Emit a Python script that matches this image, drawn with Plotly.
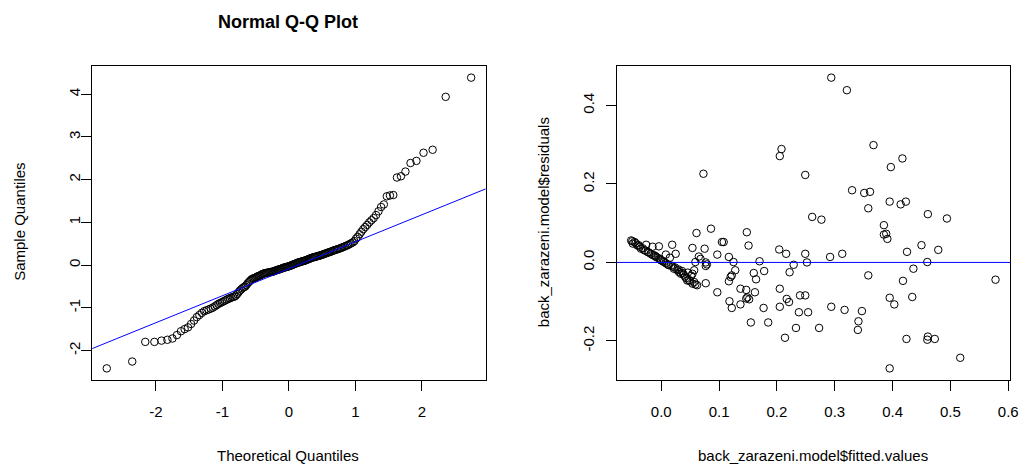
import plotly.graph_objects as go
from statistics import NormalDist

# ---------------- data ----------------
qq_sample = [
    -2.42, -2.26, -1.80, -1.80, -1.77, -1.75, -1.72, -1.64, -1.55, -1.50,
    -1.46, -1.38, -1.30, -1.22, -1.17, -1.12, -1.08, -1.06, -1.04, -1.02,
    -1.00, -0.97, -0.94, -0.91, -0.89, -0.87, -0.85, -0.83, -0.81, -0.79,
    -0.78, -0.76, -0.75, -0.74, -0.72, -0.68, -0.64, -0.60, -0.57, -0.54,
    -0.52, -0.505, -0.47, -0.43, -0.40, -0.37, -0.34, -0.32, -0.31, -0.30,
    -0.29, -0.27, -0.26, -0.25, -0.24, -0.22, -0.21, -0.20, -0.19, -0.185,
    -0.18, -0.175, -0.17, -0.165, -0.16, -0.155, -0.15, -0.14, -0.13, -0.12,
    -0.11, -0.105, -0.10, -0.09, -0.08, -0.07, -0.06, -0.055, -0.05, -0.04,
    -0.035, -0.03, -0.02, -0.01, 0.00, 0.01, 0.02, 0.03, 0.04, 0.05,
    0.06, 0.065, 0.07, 0.08, 0.09, 0.095, 0.10, 0.11, 0.12, 0.13,
    0.14, 0.15, 0.16, 0.17, 0.18, 0.185, 0.19, 0.20, 0.21, 0.215,
    0.22, 0.23, 0.24, 0.25, 0.26, 0.27, 0.28, 0.29, 0.30, 0.31,
    0.32, 0.335, 0.345, 0.355, 0.365, 0.375, 0.385, 0.40, 0.41, 0.425,
    0.44, 0.455, 0.47, 0.49, 0.51, 0.53, 0.56, 0.62, 0.66, 0.72,
    0.78, 0.84, 0.89, 0.94, 1.00, 1.05, 1.10, 1.17, 1.26, 1.36,
    1.42, 1.61, 1.63, 1.64, 2.05, 2.08, 2.19, 2.39, 2.44, 2.63,
    2.70, 3.94, 4.39,
]

fitted = [
    0.294, 0.321, 0.208, 0.205, 0.367, 0.417, 0.397, 0.249, 0.330, 0.351,
    0.361, 0.358, 0.395, 0.414, 0.423, 0.461, 0.494, 0.261, 0.277, 0.385,
    0.385, 0.389, 0.391, 0.450, 0.479, 0.425, 0.204, 0.216, 0.249, 0.292,
    0.313, 0.252, 0.229, 0.222, 0.460, 0.436, 0.358, 0.418, 0.578, 0.205,
    0.217, 0.221, 0.205, 0.240, 0.249, 0.238, 0.254, 0.294, 0.317, 0.347,
    0.341, 0.340, 0.233, 0.273, 0.214, 0.395, 0.403, 0.434, 0.424, 0.460,
    0.461, 0.473, 0.395, 0.517,
    -0.052, -0.046, -0.049, -0.041, -0.026, -0.035, -0.029, -0.023, -0.018, -0.012,
    -0.009, -0.003, 0.000, 0.005, 0.011, 0.017, -0.004, 0.019, 0.025, 0.022,
    0.028, 0.031, 0.034, 0.039, 0.045, 0.054, 0.059, 0.057, 0.077, 0.054,
    0.061, 0.086, 0.073, 0.075, 0.065, 0.068, 0.059, 0.077, 0.079, 0.077,
    0.057, 0.054, 0.097, 0.097, 0.105, 0.108, 0.117, 0.125, 0.128, 0.122,
    0.120, 0.117, 0.118, 0.122, 0.137, 0.137, 0.147, 0.149, 0.152, 0.147,
    0.148, 0.151, 0.160, 0.162, 0.164, 0.170, 0.178, 0.177, 0.155, 0.185,
    -0.050, -0.044, -0.039, -0.037, -0.032, -0.027, -0.021, -0.015, -0.010, -0.006,
    -0.001, 0.003, 0.008, 0.013, 0.020, 0.024, 0.030, 0.036, 0.041, 0.043,
    0.048, 0.050, 0.062, 0.037, 0.046, 0.052, 0.008, 0.015, -0.015,
]

residuals = [
    0.471, 0.439, 0.289, 0.271, 0.299, 0.265, 0.243, 0.223, 0.184, 0.177,
    0.180, 0.138, 0.155, 0.148, 0.155, 0.123, 0.112, 0.116, 0.109, 0.095,
    0.071, 0.073, 0.060, 0.044, 0.032, 0.027, 0.033, 0.022, 0.022, 0.014,
    0.022, 0.000, -0.006, -0.025, 0.001, -0.016, -0.033, -0.047, -0.044, -0.067,
    -0.093, -0.101, -0.113, -0.084, -0.084, -0.127, -0.127, -0.113, -0.121, -0.124,
    -0.150, -0.172, -0.167, -0.167, -0.192, -0.090, -0.107, -0.088, -0.195, -0.197,
    -0.189, -0.195, -0.270, -0.243,
    0.056, 0.052, 0.048, 0.043, 0.045, 0.035, 0.031, 0.026, 0.022, 0.018,
    0.014, 0.009, 0.005, 0.001, -0.005, -0.008, 0.041, 0.045, 0.022, -0.016,
    -0.020, -0.025, -0.029, -0.031, -0.046, -0.054, -0.056, -0.050, -0.053, 0.037,
    0.075, 0.086, 0.226, 0.035, 0.015, 0.009, 0.001, 0.000, -0.005, -0.009,
    -0.020, -0.029, 0.020, -0.076, 0.052, 0.052, 0.014, 0.001, -0.020, -0.033,
    -0.037, -0.048, -0.099, -0.116, -0.067, -0.107, -0.070, -0.089, -0.094, -0.092,
    0.077, 0.043, -0.027, -0.076, -0.043, 0.003, -0.022, -0.116, -0.153, -0.153,
    0.054, 0.049, 0.044, 0.040, 0.036, 0.030, 0.025, 0.019, 0.016, 0.012,
    0.007, 0.003, -0.002, -0.007, -0.011, -0.013, -0.018, -0.022, -0.036, -0.040,
    -0.045, -0.048, -0.058, -0.027, -0.026, -0.034, 0.020, 0.012, 0.040,
]

qq_xticks = [-2, -1, 0, 1, 2]
qq_xlabels = ["-2", "-1", "0", "1", "2"]
qq_yticks = [-2, -1, 0, 1, 2, 3, 4]
qq_ylabels = ["-2", "-1", "0", "1", "2", "3", "4"]
rv_xticks = [0.0, 0.1, 0.2, 0.3, 0.4, 0.5, 0.6]
rv_xlabels = ["0.0", "0.1", "0.2", "0.3", "0.4", "0.5", "0.6"]
rv_yticks = [-0.2, 0.0, 0.2, 0.4]
rv_ylabels = ["-0.2", "0.0", "0.2", "0.4"]

title_text = "Normal Q-Q Plot"
qq_xtitle = "Theoretical Quantiles"
qq_ytitle = "Sample Quantiles"
rv_xtitle = "back_zarazeni.model$fitted.values"
rv_ytitle = "back_zarazeni.model$residuals"

# ---------------- computations (as qqnorm / qqline do) ----------------
nd = NormalDist()
ys = sorted(qq_sample)
n = len(ys)
a = 0.375 if n <= 10 else 0.5
theo = [nd.inv_cdf((i + 1 - a) / (n + 1 - 2 * a)) for i in range(n)]


def q7(v, p):
    v = sorted(v)
    h = (len(v) - 1) * p
    lo = int(h)
    hi = min(lo + 1, len(v) - 1)
    return v[lo] + (h - lo) * (v[hi] - v[lo])


y1, y2 = q7(ys, 0.25), q7(ys, 0.75)
x1, x2 = nd.inv_cdf(0.25), nd.inv_cdf(0.75)
slope = (y2 - y1) / (x2 - x1)
icpt = y1 - slope * x1


def pad(v):
    lo, hi = min(v), max(v)
    d = (hi - lo) * 0.04
    return [lo - d, hi + d]


qx_rng, qy_rng = pad(theo), pad(ys)
rx_rng, ry_rng = pad(fitted), pad(residuals)

FONT = "Liberation Sans, Arial, sans-serif"
marker = dict(symbol="circle-open", size=7.5, color="black", line=dict(width=1, color="black"))

fig = go.Figure()
fig.add_trace(go.Scatter(x=theo, y=ys, mode="markers", marker=marker, xaxis="x", yaxis="y",
                         showlegend=False, hoverinfo="skip"))
fig.add_trace(go.Scatter(x=qx_rng, y=[icpt + slope * v for v in qx_rng], mode="lines",
                         line=dict(color="#0000FF", width=1), xaxis="x", yaxis="y",
                         showlegend=False, hoverinfo="skip"))
fig.add_trace(go.Scatter(x=fitted, y=residuals, mode="markers", marker=marker, xaxis="x2", yaxis="y2",
                         showlegend=False, hoverinfo="skip"))
fig.add_trace(go.Scatter(x=rx_rng, y=[0, 0], mode="lines",
                         line=dict(color="#0000FF", width=1), xaxis="x2", yaxis="y2",
                         showlegend=False, hoverinfo="skip"))

W, H = 1030, 465
ax_common = dict(showgrid=False, zeroline=False, showline=True, mirror=True,
                 linecolor="black", linewidth=1, ticks="outside", ticklen=10,
                 tickcolor="black", tickwidth=1,
                 tickfont=dict(family=FONT, size=15, color="black"))

ydom = [(H - 380) / H, (H - 66) / H]
fig.update_layout(
    width=W, height=H, autosize=False,
    margin=dict(l=0, r=0, t=0, b=0),
    paper_bgcolor="white", plot_bgcolor="white",
    xaxis=dict(domain=[93 / W, 490 / W], range=qx_rng, tickvals=qq_xticks, ticktext=qq_xlabels,
               anchor="y", ticklabelstandoff=8, **ax_common),
    yaxis=dict(domain=ydom, range=qy_rng, tickvals=qq_yticks, ticktext=qq_ylabels,
               anchor="x", tickangle=-90, ticklabelstandoff=-5, **ax_common),
    xaxis2=dict(domain=[622 / W, 1019 / W], range=rx_rng, tickvals=rv_xticks, ticktext=rv_xlabels,
                anchor="y2", ticklabelstandoff=8, **ax_common),
    yaxis2=dict(domain=ydom, range=ry_rng, tickvals=rv_yticks, ticktext=rv_ylabels,
                anchor="x2", tickangle=-90, ticklabelstandoff=6, **ax_common),
)

ann_font = dict(family=FONT, size=15, color="black")
fig.add_annotation(text="<b>" + title_text + "</b>", x=291 / W, y=(H - 22) / H, xref="paper", yref="paper",
                   showarrow=False, xanchor="center", yanchor="middle",
                   font=dict(family=FONT, size=18, color="black"))
fig.add_annotation(text=qq_xtitle, x=291 / W, y=(H - 455) / H, xref="paper", yref="paper",
                   showarrow=False, xanchor="center", yanchor="middle", font=ann_font)
fig.add_annotation(text=qq_ytitle, x=19 / W, y=(H - 222) / H, xref="paper", yref="paper",
                   showarrow=False, xanchor="center", yanchor="middle", textangle=-90, font=ann_font)
fig.add_annotation(text=rv_xtitle, x=820 / W, y=(H - 455) / H, xref="paper", yref="paper",
                   showarrow=False, xanchor="center", yanchor="middle", font=ann_font)
fig.add_annotation(text=rv_ytitle, x=548 / W, y=(H - 222) / H, xref="paper", yref="paper",
                   showarrow=False, xanchor="center", yanchor="middle", textangle=-90, font=ann_font)

fig.write_html("out.html", config={"displayModeBar": False},
               post_script="document.body.style.margin='0px';document.body.style.padding='0px';")
